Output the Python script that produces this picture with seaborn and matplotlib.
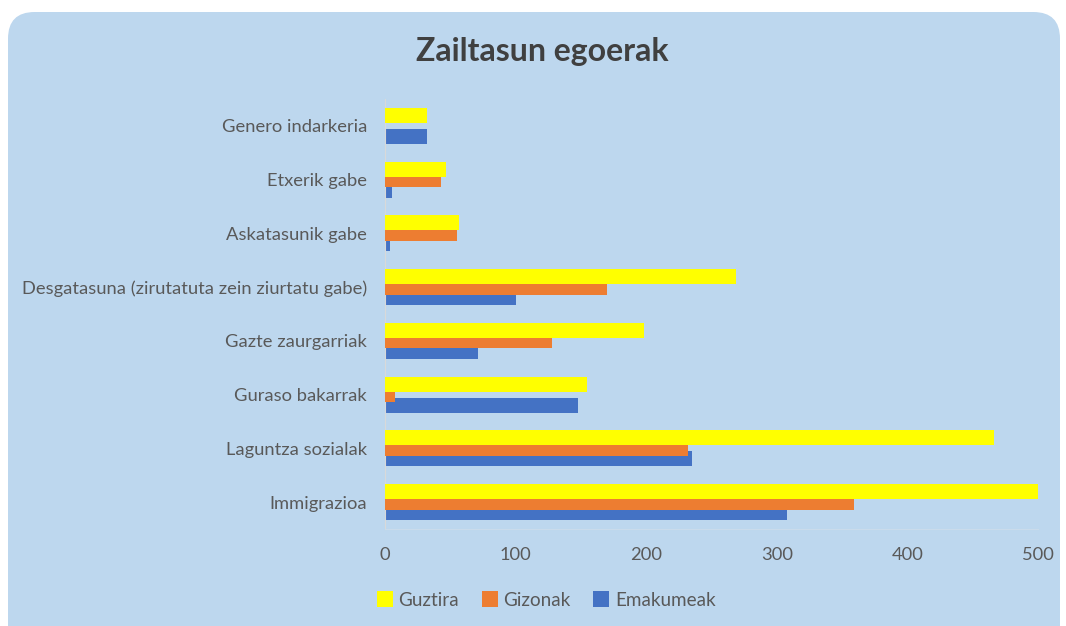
import matplotlib
matplotlib.use("Agg")
import matplotlib.pyplot as plt
import seaborn as sns
import pandas as pd
from matplotlib.patches import FancyBboxPatch, Patch

# ---- data ----
categories = ["Genero indarkeria", "Etxerik gabe", "Askatasunik gabe",
              "Desgatasuna (zirutatuta zein ziurtatu gabe)", "Gazte zaurgarriak",
              "Guraso bakarrak", "Laguntza sozialak", "Immigrazioa"]
guztira = [32, 47, 57, 269, 198, 155, 466, 500]
gizonak = [0, 43, 55, 170, 128, 8, 232, 359]
emakumeak = [32, 5, 4, 100, 71, 148, 235, 308]
series_names = ["Guztira", "Gizonak", "Emakumeak"]
x_ticks = [0, 100, 200, 300, 400, 500]
title = "Zailtasun egoerak"

colors = ["#FFFF00", "#ED7D31", "#4472C4"]

rows = []
for name, vals in zip(series_names, [guztira, gizonak, emakumeak]):
    for c, v in zip(categories, vals):
        rows.append({"cat": c, "value": v, "series": name})
df = pd.DataFrame(rows)

sns.set_theme(style="white")
plt.rcParams["font.family"] = ["Lato", "DejaVu Sans"]

W, H = 1066, 626
fig = plt.figure(figsize=(W / 100, H / 100), dpi=100, facecolor="white")

# rounded light-blue background panel
bg = FancyBboxPatch((8 / W, -30 / H), (1060 - 8) / W, (H - 12 + 30) / H,
                    boxstyle="round,pad=0,rounding_size=0.025",
                    transform=fig.transFigure, facecolor="#BDD7EE",
                    edgecolor="none", zorder=-10, mutation_aspect=W / H)
fig.patches.append(bg)

ax = fig.add_axes([385 / W, 1 - 529 / H, (1038 - 385) / W, (529 - 99) / H])
ax.set_facecolor("none")
ax.set_zorder(1)

sns.barplot(data=df, y="cat", x="value", hue="series", hue_order=series_names,
            order=categories, palette=colors, width=0.585, dodge=True,
            saturation=1, legend=False, orient="h", ax=ax, errorbar=None)

bar_h = 0.28
zorders = [4, 3, 2]
for cont, z in zip(ax.containers, zorders):
    for p in cont:
        cy = p.get_y() + p.get_height() / 2
        p.set_height(bar_h)
        p.set_y(cy - bar_h / 2)
        p.set_zorder(z)
        p.set_edgecolor("none")

ax.set_xlim(0, 500)
ax.set_ylim(7.5, -0.5)
ax.set_xticks(x_ticks)
ax.set_xlabel("")
ax.set_ylabel("")
ax.tick_params(axis="both", length=0, labelsize=13.2, colors="#595959")
ax.tick_params(axis="y", pad=13)
ax.tick_params(axis="x", pad=13)
for s in ["top", "right"]:
    ax.spines[s].set_visible(False)
ax.spines["left"].set_color("#D9D9D9")
ax.spines["left"].set_linewidth(0.8)
ax.spines["bottom"].set_color("#CADBEB")
ax.spines["bottom"].set_linewidth(0.8)
ax.grid(False)

fig.text(542 / W, 1 - 51 / H, title, ha="center", va="center",
         fontsize=23, fontweight="bold", color="#404040")

handles = [Patch(facecolor=c, edgecolor="none") for c in colors]
fig.legend(handles, series_names, loc="center", bbox_to_anchor=(546 / W, 1 - 600 / H),
           ncol=3, frameon=False, fontsize=13.6, labelcolor="#595959",
           handlelength=0.85, handleheight=0.85, handletextpad=0.3, columnspacing=1.2)

fig.savefig("out.png", dpi=100, facecolor="white")
